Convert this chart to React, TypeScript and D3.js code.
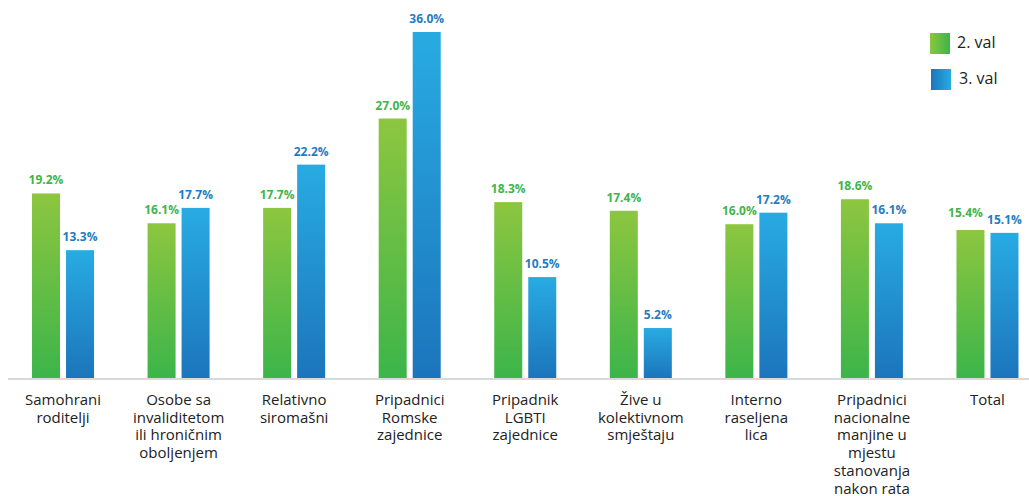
import React from "react";
import * as d3 from "d3";

const categories: string[] = [
  "Samohrani\nroditelji",
  "Osobe sa\ninvaliditetom\nili hroničnim\noboljenjem",
  "Relativno\nsiromašni",
  "Pripadnici\nRomske\nzajednice",
  "Pripadnik\nLGBTI\nzajednice",
  "Žive u\nkolektivnom\nsmještaju",
  "Interno\nraseljena\nlica",
  "Pripadnici\nnacionalne\nmanjine u\nmjestu\nstanovanja\nnakon rata",
  "Total",
];
const seriesNames: string[] = ["2. val", "3. val"];
const val2: number[] = [19.2, 16.1, 17.7, 27.0, 18.3, 17.4, 16.0, 18.6, 15.4];
const val3: number[] = [13.3, 17.7, 22.2, 36.0, 10.5, 5.2, 17.2, 16.1, 15.1];

const W = 1029;
const H = 496;
const FONT = "'Open Sans', 'Noto Sans', sans-serif";

export default function App() {
  const x = d3
    .scaleBand<string>()
    .domain(categories)
    .range([5.25, 1045.25])
    .paddingInner(0.4632)
    .paddingOuter(0.2316);
  const xs = d3
    .scaleBand<string>()
    .domain(seriesNames)
    .range([0, x.bandwidth()])
    .paddingInner(0.1765);
  const y = d3.scaleLinear().domain([0, 36]).range([378, 32]);

  const series = [
    { name: seriesNames[0], values: val2, grad: "gGreen", label: "#3fb54b" },
    { name: seriesNames[1], values: val3, grad: "gBlue", label: "#1f7cc2" },
  ];

  return (
    <svg
      width={W}
      height={H}
      style={{ position: "fixed", left: 0, top: 0, background: "#fff" }}
      fontFamily={FONT}
    >
      <defs>
        <linearGradient id="gGreen" x1="0" y1="0" x2="0" y2="1">
          <stop offset="0" stopColor="#8dc63f" />
          <stop offset="1" stopColor="#3cb54a" />
        </linearGradient>
        <linearGradient id="gBlue" x1="0" y1="0" x2="0" y2="1">
          <stop offset="0" stopColor="#28abe2" />
          <stop offset="1" stopColor="#1c75bc" />
        </linearGradient>
        <linearGradient id="lGreen" x1="0" y1="0" x2="1" y2="0">
          <stop offset="0" stopColor="#8dc63f" />
          <stop offset="1" stopColor="#3cb54a" />
        </linearGradient>
        <linearGradient id="lBlue" x1="0" y1="0" x2="1" y2="0">
          <stop offset="0" stopColor="#1c75bc" />
          <stop offset="1" stopColor="#28abe2" />
        </linearGradient>
      </defs>

      {categories.map((c, i) => {
        const close = Math.abs(y(val2[i]) - y(val3[i])) < 8;
        return (
          <g key={c} transform={`translate(${x(c)},0)`}>
            {series.map((s, si) => {
              const bx = xs(s.name)!;
              const v = s.values[i];
              const shift = close && si === 0 ? -5 : 0;
              const lift = close && si === 0 ? 4 : 0;
              return (
                <g key={s.name}>
                  <rect
                    x={bx}
                    y={y(v)}
                    width={xs.bandwidth()}
                    height={y(0) - y(v)}
                    fill={`url(#${s.grad})`}
                  />
                  <text
                    x={bx + xs.bandwidth() / 2 + shift}
                    y={y(v) - 9 - lift}
                    textAnchor="middle"
                    fontSize={12}
                    fontWeight="bold"
                    fill={s.label}
                  >
                    {v.toFixed(1)}%
                  </text>
                </g>
              );
            })}
            {c.split("\n").map((line, k) => (
              <text
                key={k}
                x={x.bandwidth() / 2}
                y={405 + k * 17.7}
                textAnchor="middle"
                fontSize={15}
                fill="#222"
              >
                {line}
              </text>
            ))}
          </g>
        );
      })}

      <line x1={8} x2={W} y1={y(0) + 1} y2={y(0) + 1} stroke="#d9d9d9" strokeWidth={2} />

      {series.map((s, k) => (
        <g key={s.name} transform={`translate(930,${33 + k * 36})`}>
          <rect x={k} y={0} width={20} height={21} fill={k === 0 ? "url(#lGreen)" : "url(#lBlue)"} />
          <text x={27 + k * 2} y={15} fontSize={16} fill="#222">
            {s.name}
          </text>
        </g>
      ))}
    </svg>
  );
}
